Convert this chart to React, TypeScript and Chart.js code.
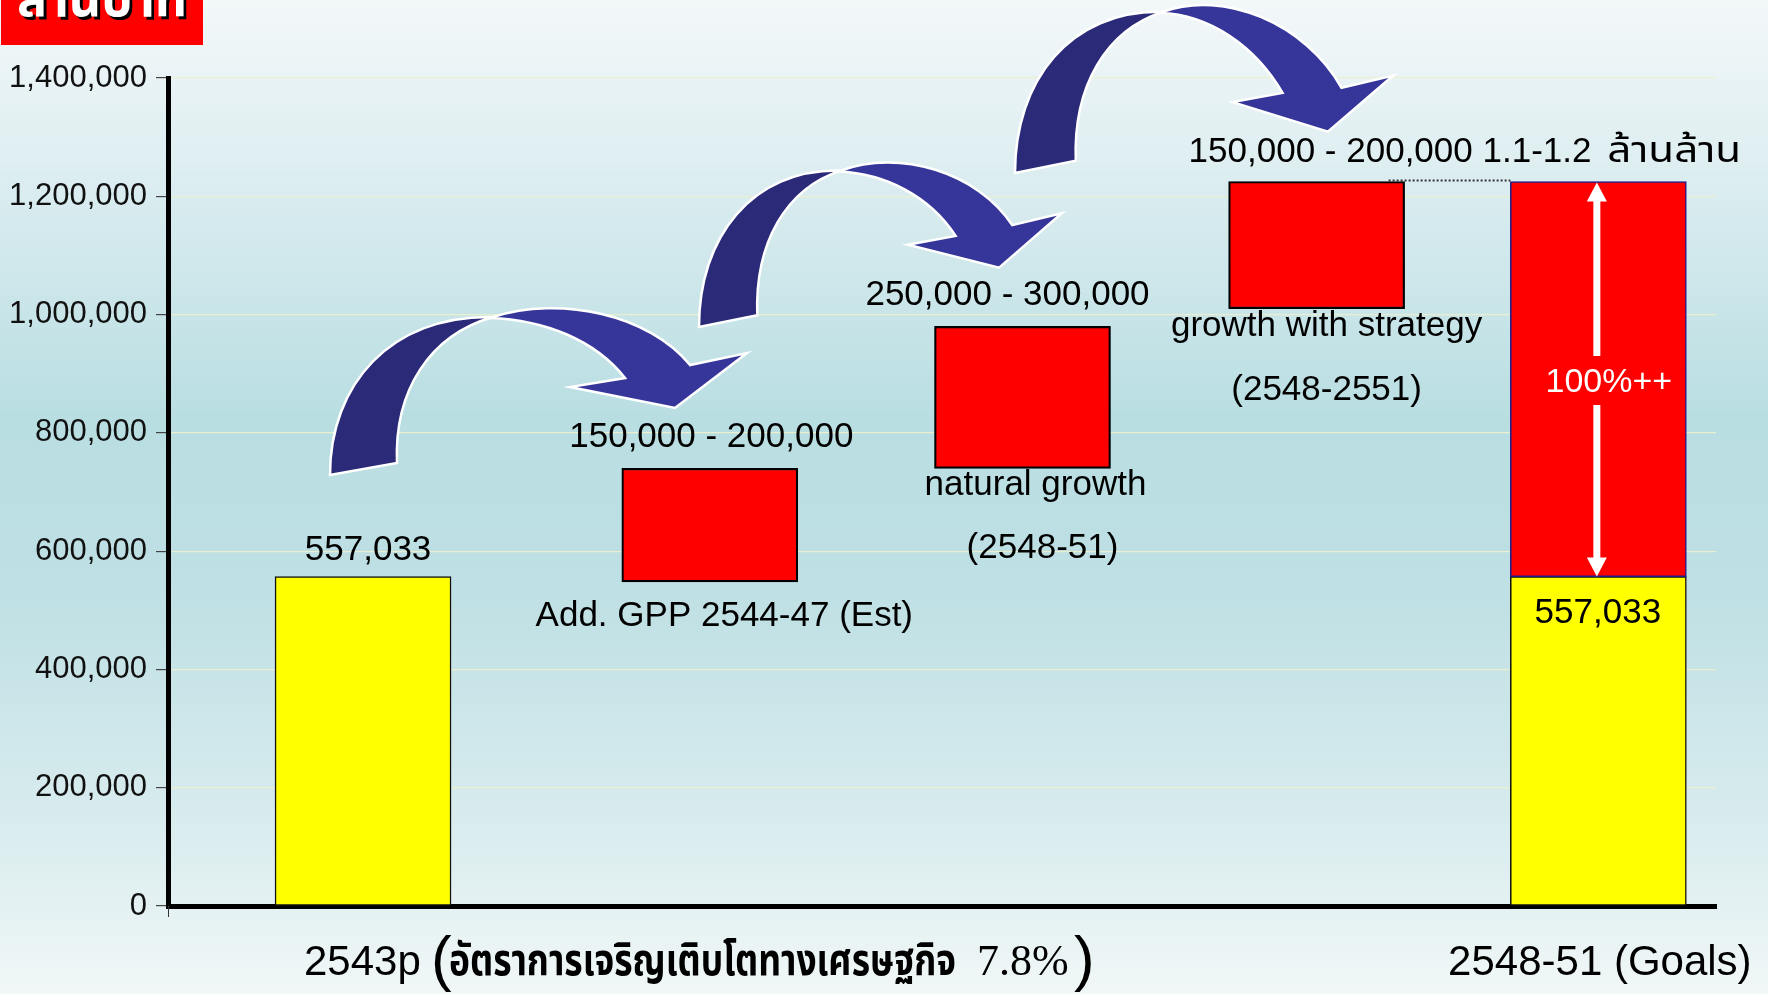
import React, { useEffect, useRef } from "react";
import { Chart, registerables } from "chart.js";

Chart.register(...registerables);

// ---------- data ----------
const categories = ["2543p", "Add. GPP 2544-47 (Est)", "natural growth (2548-51)", "growth with strategy (2548-2551)", "2548-51 (Goals)"];
// position of each category on the (0-10) horizontal value axis
const slots = [1.26, 3.5, 5.52, 7.42, 9.24];
const baseValues: (number | null)[] = [557033, null, null, null, 557033];
const stepLow: (number | null)[] = [null, 548000, 740000, 1010000, 557033];
const stepHigh: (number | null)[] = [null, 740000, 980000, 1225000, 1225000];
const yMin = 0;
const yMax = 1400000;
const yStep = 200000;

const topLabels = ["557,033", "150,000 - 200,000", "250,000 - 300,000", "150,000 - 200,000 1.1-1.2 ", "557,033"];
const topLabelThai = "ล้านล้าน";
const subLabels1 = ["", "Add. GPP 2544-47 (Est)", "natural growth", "growth with strategy", ""];
const subLabels2 = ["", "", "(2548-51)", "(2548-2551)", ""];
const goalLabel = "100%++";
const unitLabel = "ล้านบาท";
const xLabelLeftA = "2543p";
const xLabelLeftThai = "อัตราการเจริญเติบโตทางเศรษฐกิจ";
const xLabelLeftB = "7.8%";
const xLabelRight = "2548-51 (Goals)";

const SANS = '"Liberation Sans", Arial, Helvetica, sans-serif';
const SERIF = '"Liberation Serif", "Times New Roman", serif';
const THAI = '"Noto Sans Thai", "Noto Sans Thai UI", Loma, Garuda, "Tlwg Typo", "Liberation Sans", sans-serif';

function text(ctx: CanvasRenderingContext2D, s: string, x: number, y: number, size: number, align: CanvasTextAlign = "center", color = "#000", family = SANS, weight = "normal") {
  ctx.save();
  ctx.font = `${weight} ${size}px ${family}`;
  ctx.fillStyle = color;
  ctx.textAlign = align;
  ctx.textBaseline = "alphabetic";
  ctx.fillText(s, x, y);
  ctx.restore();
}

function fitText(ctx: CanvasRenderingContext2D, s: string, left: number, width: number, y: number, size: number, color = "#000", family = THAI, weight = "normal", shadow = false) {
  ctx.save();
  ctx.font = `${weight} ${size}px ${family}`;
  const w = ctx.measureText(s).width || 1;
  ctx.translate(left, y);
  ctx.scale(width / w, 1);
  ctx.textAlign = "left";
  ctx.textBaseline = "alphabetic";
  if (shadow) {
    ctx.fillStyle = "#000";
    ctx.fillText(s, 3, 3);
  }
  ctx.fillStyle = color;
  ctx.fillText(s, 0, 0);
  ctx.restore();
}

type P = [number, number];
function curvedArrow(ctx: CanvasRenderingContext2D, ox: number, oy: number, sx: number, sy: number, drop: number) {
  const p = (x: number, y: number, d = 0): P => [ox + x * sx, oy + y * sy + d];
  ctx.save();
  ctx.lineJoin = "miter";
  ctx.strokeStyle = "#ffffff";
  ctx.lineWidth = 2.5;
  // left crescent
  ctx.beginPath();
  let a = p(0, 0);
  ctx.moveTo(a[0], a[1]);
  let c1 = p(0, -90), c2 = p(60, -160), e = p(163, -158);
  ctx.bezierCurveTo(c1[0], c1[1], c2[0], c2[1], e[0], e[1]);
  c1 = p(100, -140); c2 = p(64, -85); e = p(67, -12);
  ctx.bezierCurveTo(c1[0], c1[1], c2[0], c2[1], e[0], e[1]);
  ctx.closePath();
  ctx.fillStyle = "#2a2a79";
  ctx.fill();
  ctx.stroke();
  // right part with head
  ctx.beginPath();
  a = p(163, -158);
  ctx.moveTo(a[0], a[1]);
  c1 = p(230, -180); c2 = p(320, -160, drop * 0.5); e = p(360, -110, drop);
  ctx.bezierCurveTo(c1[0], c1[1], c2[0], c2[1], e[0], e[1]);
  const head: P[] = [p(417, -122, drop), p(345, -67, drop), p(240, -88, drop * 0.7), p(295, -97, drop * 0.7)];
  head.forEach((h) => ctx.lineTo(h[0], h[1]));
  c1 = p(265, -135, drop * 0.4); c2 = p(215, -155); e = p(160, -157);
  ctx.bezierCurveTo(c1[0], c1[1], c2[0], c2[1], e[0], e[1]);
  ctx.closePath();
  ctx.fillStyle = "#36369a";
  ctx.fill();
  ctx.stroke();
  ctx.restore();
}

const bgPlugin = {
  id: "bg",
  beforeDraw(chart: any) {
    const { ctx, width, height } = chart;
    const g = ctx.createLinearGradient(0, 0, 0, height);
    g.addColorStop(0, "#f3f8f9");
    g.addColorStop(0.15, "#e0eff2");
    g.addColorStop(0.42, "#b9dee2");
    g.addColorStop(0.6, "#bfe0e4");
    g.addColorStop(0.85, "#dbedef");
    g.addColorStop(1, "#f1f7f7");
    ctx.save();
    ctx.fillStyle = g;
    ctx.fillRect(0, 0, width, height);
    ctx.restore();
  },
};

const decorPlugin = {
  id: "decor",
  afterDraw(chart: any) {
    const { ctx } = chart;
    const xs = chart.scales.x;
    const ys = chart.scales.y;
    const px = (i: number) => xs.getPixelForValue(slots[i]);
    const py = (v: number) => ys.getPixelForValue(v);
    const area = chart.chartArea;

    // small tick under origin
    ctx.save();
    ctx.strokeStyle = "#333";
    ctx.lineWidth = 1;
    ctx.beginPath();
    ctx.moveTo(area.left + 0.5, area.bottom);
    ctx.lineTo(area.left + 0.5, area.bottom + 11);
    ctx.stroke();
    ctx.restore();

    // unit box
    ctx.save();
    ctx.fillStyle = "#ff0000";
    ctx.fillRect(1, 0, 202, 45);
    ctx.restore();
    fitText(ctx, unitLabel, 17, 170, 16, 52, "#ffffff", THAI, "bold", true);

    // curved arrows
    curvedArrow(ctx, 330, 475, 1, 1, 0);
    curvedArrow(ctx, 699, 327, 0.87, 0.99, 7);
    curvedArrow(ctx, 1015, 173, 0.907, 1.02, 27);

    // dotted connector
    ctx.save();
    ctx.strokeStyle = "#333";
    ctx.lineWidth = 2;
    ctx.setLineDash([2, 2]);
    ctx.beginPath();
    const yTop = py(stepHigh[3] as number) - 1;
    ctx.moveTo(px(3) + 72, yTop);
    ctx.lineTo(px(4) - 88, yTop);
    ctx.stroke();
    ctx.restore();

    const fs = 35;
    // bar 1
    text(ctx, topLabels[0], px(0) + 5, py(baseValues[0] as number) - 17, fs);
    // bar 2
    text(ctx, topLabels[1], px(1) + 1.5, py(stepHigh[1] as number) - 21, fs);
    text(ctx, subLabels1[1], px(1) + 14.5, py(stepLow[1] as number) + 44, fs);
    // bar 3
    text(ctx, topLabels[2], px(2) - 15, py(stepHigh[2] as number) - 21, fs);
    text(ctx, subLabels1[2], px(2) + 13, py(stepLow[2] as number) + 27, fs);
    text(ctx, subLabels2[2], px(2) + 20, py(stepLow[2] as number) + 90, fs);
    // bar 4
    ctx.save();
    ctx.font = `${fs}px ${SANS}`;
    const left4 = px(3) - 128;
    const wNum = ctx.measureText(topLabels[3]).width;
    ctx.restore();
    text(ctx, topLabels[3], left4, py(stepHigh[3] as number) - 20, fs, "left");
    fitText(ctx, topLabelThai, left4 + wNum + 6, 134, py(stepHigh[3] as number) - 20, fs, "#000", THAI);
    text(ctx, subLabels1[3], px(3) + 10, py(stepLow[3] as number) + 27, fs);
    text(ctx, subLabels2[3], px(3) + 10, py(stepLow[3] as number) + 91, fs);

    // bar 5 : double arrow + labels
    const ax = px(4) - 1.5;
    const aTop = py(stepHigh[4] as number) + 1;
    const aBot = py(stepLow[4] as number);
    const labelY = 392;
    ctx.save();
    ctx.fillStyle = "#ffffff";
    ctx.fillRect(ax - 3.5, aTop + 18, 7, labelY - 36 - (aTop + 18));
    ctx.fillRect(ax - 3.5, labelY + 13, 7, aBot - 18 - (labelY + 13));
    ctx.beginPath();
    ctx.moveTo(ax, aTop);
    ctx.lineTo(ax + 10, aTop + 19);
    ctx.lineTo(ax - 10, aTop + 19);
    ctx.closePath();
    ctx.fill();
    ctx.beginPath();
    ctx.moveTo(ax, aBot);
    ctx.lineTo(ax + 10, aBot - 19);
    ctx.lineTo(ax - 10, aBot - 19);
    ctx.closePath();
    ctx.fill();
    ctx.restore();
    text(ctx, goalLabel, px(4) + 10.5, labelY, 34, "center", "#ffffff");
    text(ctx, topLabels[4], px(4) - 0.5, py(baseValues[4] as number) + 46, fs);

    // category labels under the axis
    const by = 975;
    text(ctx, xLabelLeftA, 304, by, 42, "left");
    text(ctx, "(", 431, 979, 62, "left", "#000", SANS, "300");
    fitText(ctx, xLabelLeftThai, 449, 507, by, 44, "#000", THAI, "bold");
    text(ctx, xLabelLeftB, 977, by, 44, "left", "#000", SERIF);
    text(ctx, ")", 1074, 979, 62, "left", "#000", SANS, "300");
    text(ctx, xLabelRight, px(4) + 1.5, by, 42, "center");
  },
};

export default function App() {
  const ref = useRef<HTMLCanvasElement>(null);
  useEffect(() => {
    const redBorders = stepLow.map((v, i) => (i === 4 ? "#1c1c8c" : "#000000")).filter((_, i) => stepLow[i] !== null);
    const redWidths = stepLow.map((v, i) => (i === 4 ? 1.5 : 2.2)).filter((_, i) => stepLow[i] !== null);
    const chart = new Chart(ref.current as HTMLCanvasElement, {
      type: "bar",
      data: {
        labels: categories,
        datasets: [
          {
            label: "base",
            data: slots
              .map((x, i) => (baseValues[i] === null ? null : { x, y: baseValues[i] }))
              .filter((d) => d !== null) as any,
            backgroundColor: "#ffff00",
            borderColor: "#111111",
            borderWidth: 1.5,
            borderSkipped: false,
            barThickness: 176,
            grouped: false,
            order: 2,
          } as any,
          {
            label: "step",
            data: slots
              .map((x, i) => (stepLow[i] === null ? null : { x, y: [stepLow[i], stepHigh[i]] }))
              .filter((d) => d !== null) as any,
            backgroundColor: "#ff0000",
            borderColor: redBorders,
            borderWidth: redWidths,
            borderSkipped: false,
            barThickness: 176,
            grouped: false,
            order: 1,
          } as any,
        ],
      },
      options: {
        animation: false,
        responsive: false,
        maintainAspectRatio: false,
        layout: { padding: { left: 0, right: 52, top: 78, bottom: 88 } },
        plugins: { legend: { display: false }, tooltip: { enabled: false } },
        scales: {
          x: {
            type: "linear",
            min: 0,
            max: 10,
            offset: false,
            ticks: { display: false },
            grid: { display: false, offset: false },
            border: { display: true, color: "#000000", width: 5 },
            afterFit: (s: any) => {
              s.height = 0;
            },
          },
          y: {
            min: yMin,
            max: yMax,
            ticks: {
              stepSize: yStep,
              color: "#111111",
              padding: 9,
              font: { family: SANS, size: 31 },
              callback: (v: any) => Number(v).toLocaleString("en-US"),
            },
            grid: {
              color: "rgba(236,240,205,0.95)",
              lineWidth: 1.2,
              tickColor: "#444444",
              tickLength: 12,
            },
            border: { display: true, color: "#000000", width: 5 },
            afterFit: (s: any) => {
              s.width = 168;
            },
          },
        } as any,
      },
      plugins: [bgPlugin, decorPlugin],
    });
    return () => chart.destroy();
  }, []);
  return (
    <canvas
      ref={ref}
      width={1768}
      height={994}
      style={{ position: "absolute", left: 0, top: 0, width: 1768, height: 994, display: "block" }}
    />
  );
}
